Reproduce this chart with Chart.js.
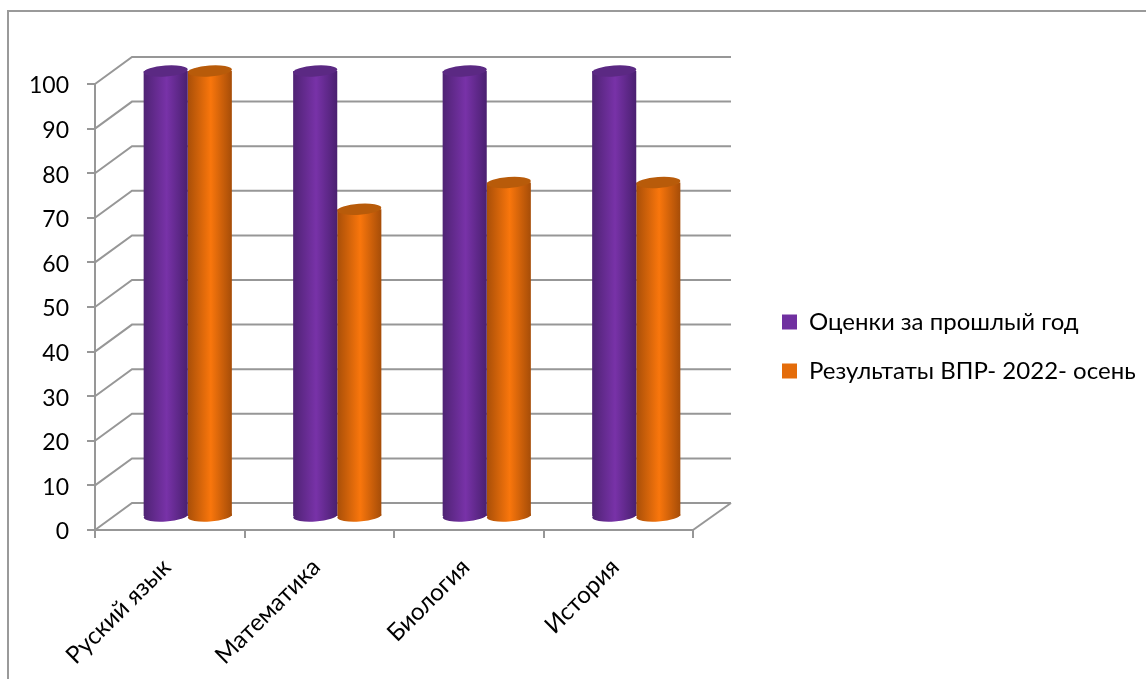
<!DOCTYPE html>
<html>
<head>
<meta charset="utf-8">
<style>
  html, body { margin: 0; padding: 0; background: #fff; }
  #box { position: relative; width: 1146px; height: 679px; overflow: hidden; }
</style>
<script src="https://cdn.jsdelivr.net/npm/chart.js@4"></script>
</head>
<body>
<div id="box"><canvas id="chart" width="1146" height="679"></canvas></div>
<script>
const categories = ['Руский язык', 'Математика', 'Биология', 'История'];
const seriesNames = ['Оценки за прошлый год', 'Результаты ВПР- 2022- осень'];
const lastYear = [100, 100, 100, 100];
const vpr2022 = [100, 69, 75, 75];

const GRID = '#979797';
const FONT = 'Lato';
const barColors = [
  { legend: '#7030A0', cap: '#5B2983', stops: ['#4F2374', '#7832A8', '#4A2070'] },
  { legend: '#E46C0A', cap: '#B85B0A', stops: ['#A94F08', '#F9760C', '#A64D08'] }
];

// back wall sits up and to the right of the front plane
const DEPTH_X = 37;
const DEPTH_Y = 27;
// cylinders stand halfway into the floor
const BAR_DX = 18;
const BAR_DY = 13;
const CAP_RY = 5.5;
const CAP_TILT = -0.07;

function barGradient(ctx) {
  const chart = ctx.chart;
  const col = barColors[ctx.datasetIndex];
  if (!chart.chartArea || ctx.dataIndex === undefined) return col.legend;
  const x = chart.scales.x;
  const band = x.getPixelForValue(1) - x.getPixelForValue(0);
  const w = band * 0.59 / 2;
  const c = x.getPixelForValue(ctx.dataIndex);
  const left = c - w + ctx.datasetIndex * w;
  const g = chart.ctx.createLinearGradient(left, 0, left + w, 0);
  g.addColorStop(0, col.stops[0]);
  g.addColorStop(0.52, col.stops[1]);
  g.addColorStop(1, col.stops[2]);
  return g;
}

const scene = {
  id: 'scene',
  afterLayout(chart) {
    // legend sits well off the plot, as in the original
    chart.legend.left = 757;
    chart.legend.right = 1146;
    chart.legend.top = 273;
    chart.legend.bottom = 420;
  },
  beforeDatasetsDraw(chart) {
    const { ctx, chartArea: a, scales: { y } } = chart;
    ctx.save();
    // outer frame, runs off the page on the right and bottom
    ctx.strokeStyle = '#9a9a9a';
    ctx.lineWidth = 2;
    ctx.beginPath();
    ctx.moveTo(8, 679);
    ctx.lineTo(8, 11);
    ctx.lineTo(1146, 11);
    ctx.stroke();

    ctx.strokeStyle = GRID;
    y.ticks.forEach(t => {
      const py = y.getPixelForValue(t.value);
      ctx.beginPath();
      ctx.moveTo(a.left, py);
      ctx.lineTo(a.left + DEPTH_X, py - DEPTH_Y);
      ctx.lineTo(a.right + DEPTH_X + 1, py - DEPTH_Y);
      ctx.stroke();
    });
    // floor edge on the right
    ctx.beginPath();
    ctx.moveTo(a.right, a.bottom);
    ctx.lineTo(a.right + DEPTH_X + 1, a.bottom - DEPTH_Y);
    ctx.stroke();
    ctx.restore();

    ctx.save();
    ctx.translate(BAR_DX, -BAR_DY);
  },
  beforeDatasetDraw(chart, args) {
    const ctx = chart.ctx;
    args.meta.data.forEach(bar => {
      ctx.beginPath();
      ctx.ellipse(bar.x, bar.base, bar.width / 2, CAP_RY, CAP_TILT, 0, Math.PI * 2);
      ctx.fillStyle = bar.options.backgroundColor;
      ctx.fill();
    });
  },
  afterDatasetDraw(chart, args) {
    const ctx = chart.ctx;
    args.meta.data.forEach(bar => {
      ctx.beginPath();
      ctx.ellipse(bar.x, bar.y, bar.width / 2, CAP_RY, CAP_TILT, 0, Math.PI * 2);
      ctx.fillStyle = barColors[args.index].cap;
      ctx.fill();
    });
  },
  afterDatasetsDraw(chart) {
    chart.ctx.restore();
  }
};

new Chart(document.getElementById('chart'), {
  type: 'bar',
  data: {
    labels: categories,
    datasets: [
      { label: seriesNames[0], data: lastYear, backgroundColor: barGradient, clip: false },
      { label: seriesNames[1], data: vpr2022, backgroundColor: barGradient, clip: false }
    ]
  },
  plugins: [scene],
  options: {
    responsive: false,
    animation: false,
    layout: { padding: { top: 84, right: 222, bottom: 0, left: 0 } },
    datasets: { bar: { categoryPercentage: 0.59, barPercentage: 1, borderWidth: 0 } },
    plugins: {
      title: { display: false },
      tooltip: { enabled: false },
      legend: {
        position: 'right',
        labels: {
          color: '#000',
          boxWidth: 15,
          boxHeight: 15,
          padding: 25,
          font: { family: FONT, size: 24 },
          generateLabels(chart) {
            return seriesNames.map((name, i) => ({
              text: name,
              fillStyle: barColors[i].legend,
              strokeStyle: barColors[i].legend,
              lineWidth: 0,
              datasetIndex: i
            }));
          }
        }
      }
    },
    scales: {
      x: {
        afterFit(s) { s.height = 149; },
        border: { color: GRID, width: 2 },
        grid: { drawOnChartArea: false, color: GRID, lineWidth: 2, tickLength: 8 },
        ticks: {
          color: '#000',
          maxRotation: 45,
          minRotation: 45,
          padding: 15,
          labelOffset: -3,
          font: { family: FONT, size: 24 }
        }
      },
      y: {
        min: 0,
        max: 100,
        afterFit(s) { s.width = 95; },
        border: { color: GRID, width: 2 },
        grid: { drawOnChartArea: false, color: GRID, lineWidth: 2, tickLength: 8 },
        ticks: {
          color: '#000',
          stepSize: 10,
          padding: 18,
          labelOffset: 2,
          font: { family: FONT, size: 23 }
        }
      }
    }
  }
});
</script>
</body>
</html>
